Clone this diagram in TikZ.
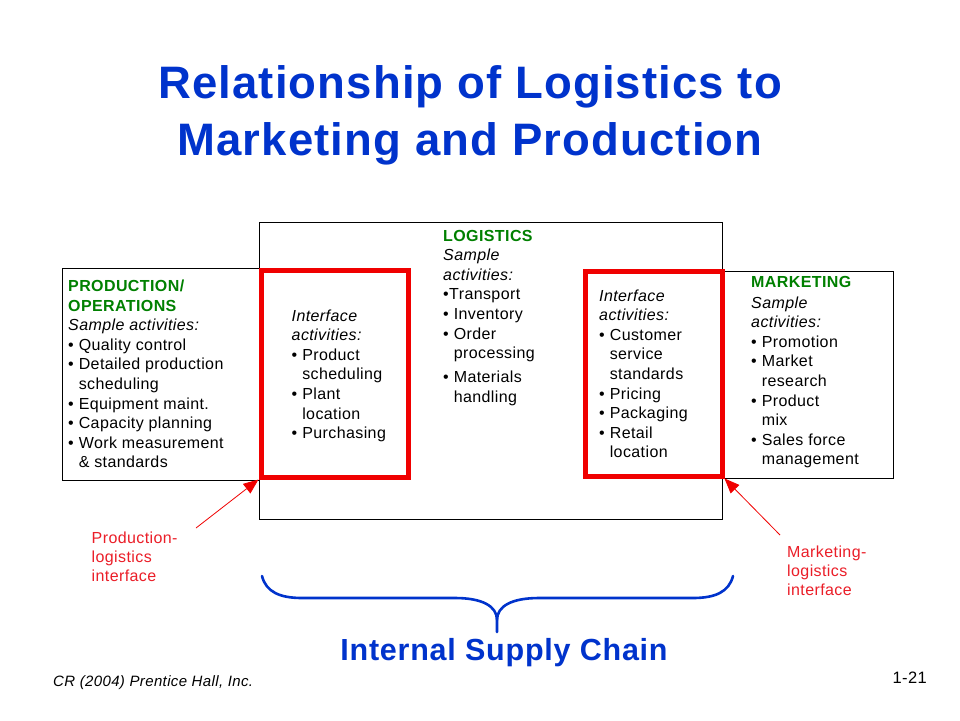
\documentclass[tikz,border=0pt]{standalone}
\usepackage{fontspec}
\setmainfont{Liberation Sans}[LetterSpace=2.5]
\usetikzlibrary{arrows.meta}
\definecolor{titleblue}{RGB}{0,51,204}
\definecolor{hdgreen}{RGB}{0,128,0}
\definecolor{lblred}{RGB}{235,30,40}
\definecolor{boxred}{RGB}{240,0,0}
\newcommand{\blk}[1]{\begin{tabular}[t]{@{}l@{}}#1\end{tabular}}
\newcommand{\bu}{\textbullet\hspace{5pt}}
\newcommand{\ind}{\hphantom{\textbullet}\hspace{5pt}}
\newcommand{\hd}[1]{\textcolor{hdgreen}{\textbf{#1}}}
\begin{document}
\begin{tikzpicture}[x=1pt,y=-1pt,
  box/.style={draw=black, line width=0.9pt, inner sep=0pt},
  redbox/.style={draw=boxred, line width=5pt, inner sep=0pt},
  tb/.style={anchor=base west, inner sep=0pt, font=\fontsize{16}{19.6}\selectfont},
  lbl/.style={anchor=base west, inner sep=0pt, text=lblred, font=\fontsize{16}{19.4}\selectfont},
  ptr/.style={draw=boxred, line width=0.8pt, -{Triangle[length=15pt,width=12pt]}},
  brace/.style={draw=titleblue, line width=2.6pt, line cap=round}]
\useasboundingbox (0,0) rectangle (960,720);
\fill[white] (0,0) rectangle (960,720);

% title
\node[anchor=base, inner sep=0pt, text=titleblue, font=\fontsize{45.5}{57}\selectfont\bfseries] (title) at (470,98)
  {\begin{tabular}[t]{@{}c@{}}Relationship of Logistics to\\Marketing and Production\end{tabular}};

% boxes
\node[box, minimum width=463pt, minimum height=297pt] (log) at (490.5,370.5) {};
\node[box, minimum width=197pt, minimum height=212pt] (prod) at (160.5,374) {};
\node[box, minimum width=171pt, minimum height=207pt] (mkt) at (807.5,374.5) {};
\node[redbox, minimum width=147pt, minimum height=207pt] (redL) at (334.5,373.5) {};
\node[redbox, minimum width=137pt, minimum height=205pt] (redR) at (653.5,373.5) {};

% texts
\node[tb] (prodtxt) at (68,291.5) {\blk{\hd{PRODUCTION/}\\\hd{OPERATIONS}\\
  \textit{Sample activities:}\\
  \bu Quality control\\
  \bu Detailed production\\
  \ind scheduling\\
  \bu Equipment maint.\\
  \bu Capacity planning\\
  \bu Work measurement\\
  \ind \& standards}};

\node[tb] (iftxtL) at (291.5,321) {\blk{\textit{Interface}\\\textit{activities:}\\
  \bu Product\\
  \ind scheduling\\
  \bu Plant\\
  \ind location\\
  \bu Purchasing}};

\node[tb] (logtxt) at (443,241) {\blk{\hd{LOGISTICS}\\
  \textit{Sample}\\\textit{activities:}\\
  \textbullet Transport\\
  \bu Inventory\\
  \bu Order\\
  \ind processing\\[4.5pt]
  \bu Materials\\
  \ind handling}};

\node[tb] (iftxtR) at (599,301) {\blk{\textit{Interface}\\\textit{activities:}\\
  \bu Customer\\
  \ind service\\
  \ind standards\\
  \bu Pricing\\
  \bu Packaging\\
  \bu Retail\\
  \ind location}};

\node[tb] (mkttxt) at (751,287) {\blk{\hd{MARKETING}\\[1.5pt]
  \textit{Sample}\\\textit{activities:}\\
  \bu Promotion\\
  \bu Market\\
  \ind research\\
  \bu Product\\
  \ind mix\\
  \bu Sales force\\
  \ind management}};

% interface labels and arrows
\node[lbl] (plab) at (91.5,543) {\begin{tabular}[t]{@{}l@{}}Production-\\logistics\\interface\end{tabular}};
\node[lbl] (mlab) at (787,557) {\begin{tabular}[t]{@{}l@{}}Marketing-\\logistics\\interface\end{tabular}};
\coordinate (pa) at (196,528);
\coordinate (ma) at (780,535);
\draw[ptr] (pa) -- (redL.south west);
\draw[ptr] (ma) -- (redR.south east);

% brace
\draw[brace] (262,576) .. controls (266,592) and (280,598) .. (302,598) -- (455,598)
  .. controls (482,598) and (497,606) .. (497,620) -- (497,632);
\draw[brace] (497,620) .. controls (497,606) and (512,598) .. (539,598) -- (693,598)
  .. controls (715,598) and (729,592) .. (733,576);
\node[anchor=base, inner sep=0pt, text=titleblue, font=\fontsize{30.5}{36}\selectfont\bfseries] (isc) at (504,660) {Internal Supply Chain};

% footer
\node[anchor=base west, inner sep=0pt, font=\fontsize{15}{18}\selectfont\itshape] (cr) at (53,686) {CR (2004) Prentice Hall, Inc.};
\node[anchor=base east, inner sep=0pt, font=\fontsize{16.5}{19}\selectfont] (pg) at (927,683) {1-21};
\end{tikzpicture}
\end{document}
